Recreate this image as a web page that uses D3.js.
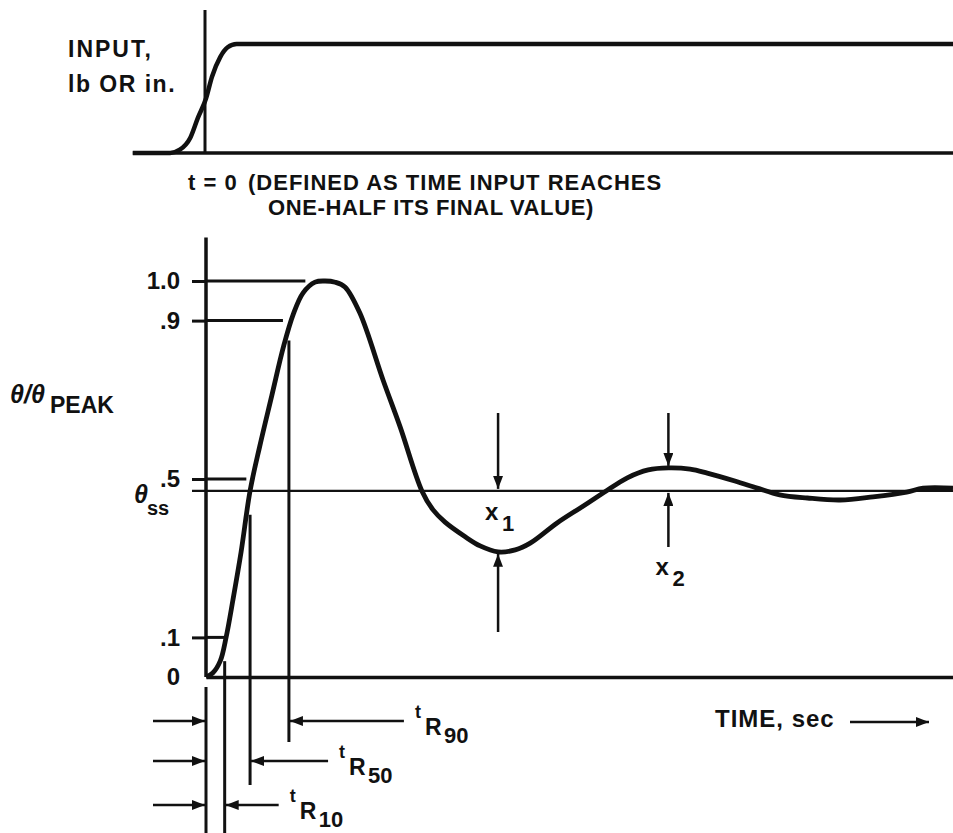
<!DOCTYPE html>
<html>
<head>
<meta charset="utf-8">
<script src="https://cdn.jsdelivr.net/npm/d3@7"></script>
<style>
body { margin: 0; background: #fff; }
text { font-family: 'Liberation Sans', Arial, sans-serif; font-weight: bold; fill: #111; }
</style>
</head>
<body>
<div id="chart-area"></div>
<script>
// input step (top panel), time in arbitrary units, t = 0 at half value
var inputTime = [-0.98, -0.48, -0.35, -0.21, -0.11, 0, 0.08, 0.19, 0.29, 0.41, 10]
var inputValue = [0, 0, 0.03, 0.14, 0.32, 0.5, 0.70, 0.88, 0.97, 1.0, 1.0]

// response theta / theta peak
var respTime = [0, 0.09, 0.19, 0.27, 0.36, 0.47, 0.59, 0.72, 0.88, 1.04, 1.17, 1.30, 1.46, 1.59, 1.73, 1.86,
	2.06, 2.37, 2.60, 2.89, 3.04, 3.20, 3.47, 3.67, 3.91, 4.14, 4.34, 4.70, 5.01, 5.32, 5.64, 5.92, 6.19,
	6.48, 6.71, 7.08, 7.38, 7.68, 8.05, 8.49, 8.93, 9.38, 9.60, 10]
var respValue = [0, 0.010, 0.040, 0.101, 0.194, 0.316, 0.470, 0.583, 0.710, 0.836, 0.917, 0.970, 0.997, 1.0, 0.997, 0.985,
	0.919, 0.750, 0.631, 0.470, 0.422, 0.391, 0.354, 0.331, 0.316, 0.321, 0.338, 0.389, 0.427, 0.465, 0.503, 0.523, 0.528,
	0.525, 0.515, 0.495, 0.477, 0.460, 0.452, 0.447, 0.455, 0.467, 0.477, 0.477]

var tickValues = [0, 0.1, 0.5, 0.9, 1.0]
var tickLabels = ['0', '.1', '.5', '.9', '1.0']
var guideEnd = [null, 0.25, 0.54, 1.03, 1.33]   // horizontal guides from the axis toward the curve

var thetaSS = 0.47

var riseNames = ['10', '50', '90']
var riseTimes = [0.25, 0.59, 1.11]
var riseTop = [0.04, 0.41, 0.85]

var overshootTime = [3.91, 6.19]
var overshootValue = [0.316, 0.528]
var overshootNames = ['1', '2']

var width = 953
var height = 833

var svg = d3.select('#chart-area').append('svg')
	.attr('width', width)
	.attr('height', height)

var defs = svg.append('defs')
defs.append('marker')
	.attr('id', 'head')
	.attr('markerUnits', 'userSpaceOnUse')
	.attr('viewBox', '0 0 13 10')
	.attr('markerWidth', 13)
	.attr('markerHeight', 10)
	.attr('refX', 13)
	.attr('refY', 5)
	.attr('orient', 'auto')
	.append('path')
		.attr('d', 'M0,0 L13,5 L0,10 Z')
		.attr('fill', '#111')

var x = d3.scaleLinear().domain([0, 10]).range([206, 953])
var yIn = d3.scaleLinear().domain([0, 1]).range([153, 44])
var y = d3.scaleLinear().domain([0, 1]).range([677, 281])

function seg(g, x1, y1, x2, y2, w) {
	return g.append('line')
		.attr('x1', x1).attr('y1', y1)
		.attr('x2', x2).attr('y2', y2)
		.attr('stroke', '#111')
		.attr('stroke-width', w)
}

function arrow(g, x1, y1, x2, y2) {
	return seg(g, x1, y1, x2, y2, 2.5).attr('marker-end', 'url(#head)')
}

// ---- top panel : input ----
var topPanel = svg.append('g')

seg(topPanel, x(inputTime[0]), yIn(0), width, yIn(0), 3.5)
seg(topPanel, x(0) - 1, 10, x(0) - 1, yIn(0), 3)

var inputLine = d3.line()
	.x((d, i) => x(inputTime[i]))
	.y(d => yIn(d))
	.curve(d3.curveMonotoneX)

topPanel.append('path')
	.attr('d', inputLine(inputValue))
	.attr('fill', 'none')
	.attr('stroke', '#111')
	.attr('stroke-width', 4.5)

topPanel.append('text').attr('x', 68).attr('y', 57).attr('font-size', '23px').attr('letter-spacing', '2px').text('INPUT,')
topPanel.append('text').attr('x', 68).attr('y', 92).attr('font-size', '23px').attr('letter-spacing', '1.5px').text('lb OR in.')

topPanel.append('text').attr('x', 188).attr('y', 190).attr('font-size', '22px').attr('letter-spacing', '1px').text('t = 0')
topPanel.append('text').attr('x', 248).attr('y', 190).attr('font-size', '22px').attr('letter-spacing', '1px')
	.text('(DEFINED AS TIME INPUT REACHES')
topPanel.append('text').attr('x', 268).attr('y', 215).attr('font-size', '22px').attr('letter-spacing', '0.6px')
	.text('ONE-HALF ITS FINAL VALUE)')

// ---- lower panel : response ----
var g = svg.append('g')

var yAxisCall = d3.axisLeft(y)
	.tickValues(tickValues)
	.tickFormat((d, i) => tickLabels[i])
	.tickSize(14)
	.tickPadding(12)

var yAxisGroup = g.append('g')
	.attr('transform', `translate(${x(0)}, 0)`)
	.call(yAxisCall)

yAxisGroup.select('.domain').remove()
yAxisGroup.selectAll('.tick line').attr('stroke', '#111').attr('stroke-width', 3)
	.attr('opacity', d => d === 0 ? 0 : 1)
yAxisGroup.selectAll('.tick text')
	.attr('font-size', '24px')
	.attr('font-family', "'Liberation Sans', Arial, sans-serif")
	.attr('fill', '#111')

seg(g, x(0), y(0), x(0), y(1.11), 3.5)

var xAxisCall = d3.axisBottom(x).tickValues([]).tickSizeOuter(0)
var xAxisGroup = g.append('g')
	.attr('transform', `translate(0, ${y(0)})`)
	.call(xAxisCall)
xAxisGroup.select('.domain').attr('stroke', '#111').attr('stroke-width', 3.5)

// guide lines from ticks
tickValues.forEach((v, i) => {
	if (guideEnd[i] !== null) seg(g, x(0), y(v), x(guideEnd[i]), y(v), 3)
})

// steady state line
seg(g, x(0) - 14, y(thetaSS), width, y(thetaSS), 2.2)

var respLine = d3.line()
	.x((d, i) => x(respTime[i]))
	.y(d => y(d))
	.curve(d3.curveCatmullRom.alpha(0.5))

g.append('path')
	.attr('d', respLine(respValue))
	.attr('fill', 'none')
	.attr('stroke', '#111')
	.attr('stroke-width', 4.8)
	.attr('stroke-linejoin', 'round')

// labels on the y side
g.append('text').attr('x', 10).attr('y', 403)
	.attr('font-size', '25px').attr('font-style', 'italic').attr('font-weight', 'normal')
	.text('θ/θ')
g.append('text').attr('x', 50).attr('y', 413).attr('font-size', '23px').text('PEAK')

g.append('text').attr('x', 134).attr('y', 503)
	.attr('font-size', '25px').attr('font-style', 'italic').attr('font-weight', 'normal')
	.text('θ')
g.append('text').attr('x', 147).attr('y', 515).attr('font-size', '20px').text('ss')

// rise time markers
var rowY = [805, 761, 721]
var tailLen = [54, 78, 115]
var lineBottom = [833, 785, 742]

seg(g, x(0), 687, x(0), height, 3)

riseNames.forEach((name, i) => {
	var rx = x(riseTimes[i])
	seg(g, rx, y(riseTop[i]), rx, lineBottom[i], 3)

	arrow(g, 153, rowY[i], x(0) - 1, rowY[i])
	arrow(g, rx + tailLen[i], rowY[i], rx + 1, rowY[i])

	var lx = rx + tailLen[i] + 11
	g.append('text').attr('x', lx).attr('y', rowY[i] - 3).attr('font-size', '18px').attr('font-weight', 'normal').text('t')
	g.append('text').attr('x', lx + 10).attr('y', rowY[i] + 14).attr('font-size', '23px').attr('font-weight', 'normal').text('R')
	g.append('text').attr('x', lx + 29).attr('y', rowY[i] + 22).attr('font-size', '22px').attr('font-weight', 'normal').text(name)
})

// overshoot markers x1, x2
var ssY = y(thetaSS)
overshootTime.forEach((t, i) => {
	var ox = x(t)
	var oy = y(overshootValue[i])
	var above = oy < ssY
	var upper = above ? oy : ssY
	var lower = above ? ssY : oy
	arrow(g, ox, 413, ox, upper - 2)
	arrow(g, ox, above ? 547 : 632, ox, lower + 2)

	var lx = ox - 13
	var ly = above ? 575 : 520
	g.append('text').attr('x', lx).attr('y', ly).attr('font-size', '24px').attr('font-weight', 'normal').text('x')
	g.append('text').attr('x', lx + 17).attr('y', ly + 11).attr('font-size', '22px').attr('font-weight', 'normal').text(overshootNames[i])
})

// time axis label
g.append('text').attr('x', 715).attr('y', 727).attr('font-size', '24px').attr('letter-spacing', '1px').text('TIME, sec')
arrow(g, 850, 722, 929, 722)
</script>
</body>
</html>
